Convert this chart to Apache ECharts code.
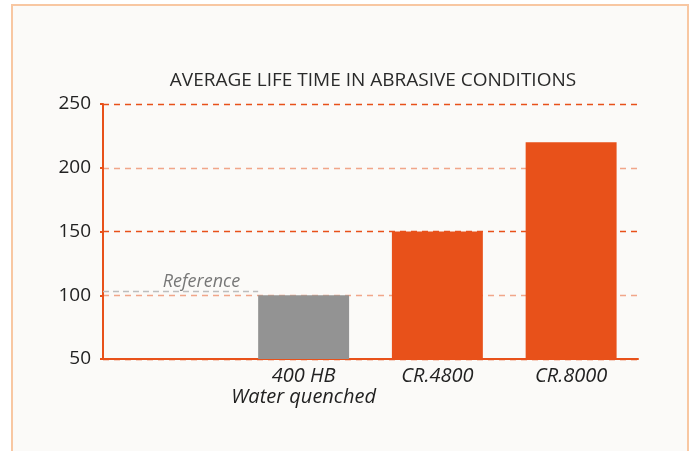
<!DOCTYPE html>
<html>
<head>
<meta charset="utf-8">
<script src="https://cdn.jsdelivr.net/npm/echarts@6/dist/echarts.min.js"></script>
<style>
  html, body { margin: 0; padding: 0; background: #ffffff; }
  #frame { position: absolute; left: 11px; top: 4px; width: 674px; height: 460px;
           border: 2px solid #f8c7a2; background: #fbfaf8; }
  #chart { position: absolute; left: 0; top: 0; width: 691px; height: 451px; }
</style>
</head>
<body>
<div id="frame"></div>
<div id="chart"></div>
<script>
const titleText = 'AVERAGE LIFE TIME IN ABRASIVE CONDITIONS';
const categories = ['', '400 HB\nWater quenched', 'CR.4800', 'CR.8000'];
const lifeValues = [null, 100, 150, 220];
const barKinds = ['none', 'reference', 'product', 'product'];
const referenceValue = 103;
const referenceLabel = 'Reference';
const yMin = 50, yMax = 250, yStep = 50;

const ORANGE = '#e8511a';
const GRAY = '#939393';
const FONT = 'Open Sans';
const barRatio = 0.68;
// the reference line runs from the axis to the left edge of the reference bar
const refBarIndex = barKinds.indexOf('reference');
const refEnd = refBarIndex + (1 - barRatio) / 2;

const chart = echarts.init(document.getElementById('chart'));
chart.setOption({
  backgroundColor: 'transparent',
  animation: false,
  textStyle: { fontFamily: FONT },
  title: {
    text: titleText, left: 368, top: 66, textAlign: 'center',
    textStyle: { fontFamily: FONT, fontSize: 19, fontWeight: 'normal', color: '#2a2a2a' }
  },
  grid: { left: 103, right: 53, top: 104, bottom: 92, containLabel: false },
  xAxis: [{
    type: 'category', data: categories,
    axisLine: { lineStyle: { color: ORANGE, width: 2 } },
    axisTick: { show: false },
    axisLabel: { interval: 0, fontFamily: FONT, fontSize: 20, fontStyle: 'italic', color: '#222', margin: 7, lineHeight: 21 }
  }, {
    type: 'value', min: 0, max: categories.length, show: false
  }],
  yAxis: {
    type: 'value', min: yMin, max: yMax, interval: yStep,
    axisLine: { show: true, lineStyle: { color: ORANGE, width: 2 } },
    axisTick: { show: true, length: 3, lineStyle: { color: ORANGE, width: 2 } },
    axisLabel: { fontFamily: FONT, fontSize: 19, color: '#222', margin: 12 },
    splitLine: { show: true, lineStyle: { type: [6, 5], width: 1.3,
      color: [ORANGE, 'rgba(232,81,26,0.5)'] } }
  },
  series: [{
    type: 'bar', xAxisIndex: 0, barWidth: (barRatio * 100) + '%',
    data: lifeValues.map((v, i) => ({ value: v,
      itemStyle: { color: barKinds[i] === 'reference' ? GRAY : ORANGE } }))
  }, {
    type: 'line', xAxisIndex: 1, data: [], silent: true,
    markLine: {
      symbol: 'none', silent: true,
      lineStyle: { color: '#bdbdbd', type: [6, 4], width: 1.3 },
      label: { show: true, position: 'insideEndTop', formatter: referenceLabel,
        fontFamily: FONT, fontSize: 18, fontStyle: 'italic', color: '#777', distance: [18, 1] },
      data: [[{ coord: [0, referenceValue] }, { coord: [refEnd, referenceValue] }]]
    }
  }]
});
</script>
</body>
</html>
